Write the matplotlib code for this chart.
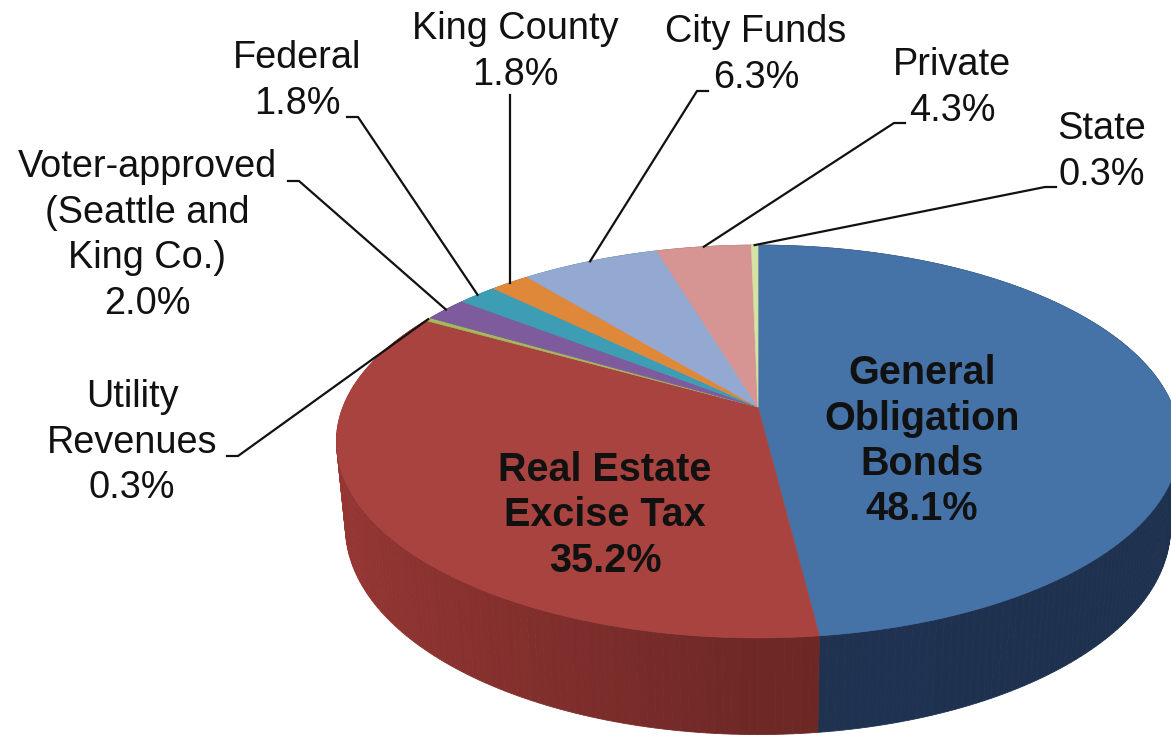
import matplotlib.pyplot as plt
import numpy as np
from matplotlib.patches import Polygon
from matplotlib.colors import to_rgb

plt.rcParams['font.family'] = ['Liberation Sans', 'DejaVu Sans']

# Данные (доли финансирования, %), по часовой стрелке от 12 часов
names = ['General\nObligation\nBonds', 'Real Estate\nExcise Tax', 'Utility\nRevenues',
         'Voter-approved\n(Seattle and\nKing Co.)', 'Federal', 'King County',
         'City Funds', 'Private', 'State']
values = [48.1, 35.2, 0.3, 2.0, 1.8, 1.8, 6.3, 4.3, 0.3]

top_colors = ['#4572A7', '#A9433F', '#A3B95C', '#7D5B9C', '#3D9DB5',
              '#E0883A', '#93A9D2', '#D69593', '#D5E3A2']
side_colors = ['#1F3352', '#6E2826', '#5E6E30', '#48335C', '#225C6B',
               '#8A4F1E', '#55647F', '#845553', '#7F8860']

# Параметры "3D" проекции (в пикселях картинки)
cx, cy = 758, 407      # центр пирога
S = 415                # радиус
alpha = np.radians(27.3)   # наклон
D = 5.06               # расстояние до камеры (перспектива)
h = 0.235              # толщина

def project(phi, yw):
    X = np.sin(phi)
    Z = -np.cos(phi)
    yc = yw * np.cos(alpha) - Z * np.sin(alpha)
    zc = yw * np.sin(alpha) + Z * np.cos(alpha)
    s = D / (D - zc)
    return cx + S * X * s, cy - S * yc * s

fig = plt.figure(figsize=(11.71, 7.37), dpi=100)
ax = fig.add_axes([0, 0, 1, 1])
ax.set_xlim(0, 1171)
ax.set_ylim(737, 0)
ax.axis('off')

frac = np.array(values) / sum(values)
edges = np.concatenate([[0], np.cumsum(frac)]) * 2 * np.pi

# Боковая стенка: мелкие четырёхугольники, дальние рисуем первыми
quads = []
for i in range(len(values)):
    a0, a1 = edges[i], edges[i + 1]
    n = max(2, int(np.degrees(a1 - a0)))
    ph = np.linspace(a0, a1, n + 1)
    for k in range(n):
        p0, p1 = ph[k], ph[k + 1]
        pm = (p0 + p1) / 2
        t0 = project(p0, 0); t1 = project(p1, 0)
        b1 = project(p1, -h); b0 = project(p0, -h)
        f = 1 + 0.38 * max(0, -np.sin(pm)) + 0.05 * min(0, -np.sin(pm))
        col = np.clip(np.array(to_rgb(side_colors[i])) * f, 0, 1)
        quads.append((-np.cos(pm), [t0, t1, b1, b0], col))
quads.sort(key=lambda q: q[0])
for _, pts, col in quads:
    ax.add_patch(Polygon(pts, closed=True, facecolor=col, edgecolor=col, lw=0.6, zorder=1))

# Верхняя поверхность
for i in range(len(values)):
    ph = np.linspace(edges[i], edges[i + 1], 200)
    xs, ys = project(ph, 0)
    pts = [(cx, cy)] + list(zip(xs, ys))
    ax.add_patch(Polygon(pts, closed=True, facecolor=top_colors[i],
                         edgecolor=top_colors[i], lw=0.5, zorder=2))

# Подписи
fs = 27.3
step = 45.5
# (индекс, центр x, базовая линия первой строки, начало выноски, направление выноски)
label_pos = [
    (2, 132, 407, (227, 456), 1),
    (3, 147, 177, (288, 181), 1),
    (4, 297, 68, (347, 117), 1),
    (5, 515, 39, None, 0),
    (6, 756, 42, (708, 91), -1),
    (7, 952, 75, (905, 123), -1),
    (8, 1102, 139, (1056, 187), -1),
]
for i, x0, y0, lead, d in label_pos:
    lines = names[i].split('\n') + [f'{values[i]:.1f}%']
    for j, s in enumerate(lines):
        ax.text(x0, y0 + j * step, s, ha='center', va='baseline', fontsize=fs,
                color='#111111', zorder=5)
    mid = (edges[i] + edges[i + 1]) / 2
    ex, ey = project(mid, 0)
    if lead is None:
        ax.plot([ex, ex], [y0 + step + 10, ey], color='#111111', lw=1.6, zorder=4)
    else:
        lx, ly = lead
        ax.plot([lx, lx + 11 * d, ex], [ly, ly, ey], color='#111111', lw=1.6, zorder=4)

# Крупные подписи внутри
for i, x0, y0 in [(0, 922, 384), (1, 605, 481)]:
    lines = names[i].split('\n') + [f'{values[i]:.1f}%']
    for j, s in enumerate(lines):
        ax.text(x0, y0 + j * step, s, ha='center', va='baseline', fontsize=28.5,
                fontweight='bold', color='#111111', zorder=5)

fig.savefig('out.png', dpi=100)
